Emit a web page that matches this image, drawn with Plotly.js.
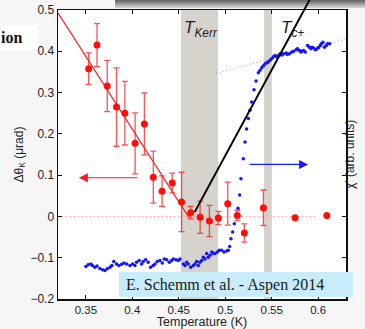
<!DOCTYPE html>
<html>
<head>
<meta charset="utf-8">
<script src="https://cdn.plot.ly/plotly-3.0.1.min.js"></script>
<style>
html,body{margin:0;padding:0;background:#f6f6f6;}
#chart{width:365px;height:329px;}
</style>
</head>
<body>
<div id="chart"></div>
<script>
// ---- Kerr rotation (red, left axis) ----
const kerrT      = [0.353, 0.362, 0.373, 0.383, 0.392, 0.403, 0.413, 0.4226, 0.432, 0.443, 0.453, 0.4628, 0.473, 0.483, 0.4926, 0.5027, 0.513, 0.5206, 0.5411, 0.5752, 0.6094];
const kerrSignal = [0.358, 0.415, 0.316, 0.265, 0.250, 0.177, 0.224, 0.095, 0.061, 0.081, 0.035, 0.009, -0.002, -0.011, -0.004, 0.031, 0.002, -0.040, 0.021, -0.003, 0.002];
const kerrError  = [0.038, 0.052, 0.062, 0.095, 0.077, 0.074, 0.075, 0.063, 0.037, 0.024, 0.072, 0.015, 0.039, 0.038, 0.016, 0.052, 0.013, 0.022, 0.043, 0.003, 0];

// ---- AC susceptibility (blue dots, arb. units on the same scale) ----
const chiT = [0.350, 0.3525, 0.3554, 0.357, 0.3597, 0.362, 0.365, 0.368, 0.3705, 0.373, 0.3759, 0.378, 0.380, 0.383, 0.3856, 0.3885, 0.391, 0.3939,
  0.3974, 0.4003, 0.4028, 0.4046, 0.4074, 0.410, 0.4117, 0.4143, 0.4171, 0.4197, 0.4225, 0.4244, 0.4268, 0.4297, 0.4322, 0.4344, 0.437, 0.4398,
  0.4423, 0.4441, 0.447, 0.4495, 0.4513, 0.4549, 0.4567, 0.4585, 0.4602, 0.4628, 0.4656, 0.4675, 0.4693, 0.471, 0.4728, 0.4747, 0.4764, 0.4782,
  0.480, 0.4818, 0.4836, 0.4855, 0.4872, 0.489, 0.4915, 0.4936, 0.4962, 0.4987, 0.5016, 0.5033, 0.5048, 0.5062, 0.508, 0.5098, 0.5124, 0.5138,
  0.5155, 0.5169, 0.5195, 0.5213, 0.523, 0.5249, 0.5267, 0.5285, 0.531, 0.5332, 0.5357, 0.5375, 0.5393, 0.541, 0.5429, 0.5447, 0.5464, 0.5482,
  0.550, 0.5518, 0.5537, 0.5555, 0.5573, 0.5591, 0.5609, 0.5627, 0.5656, 0.567, 0.5692, 0.5717, 0.5735, 0.5764, 0.5778, 0.580, 0.5815, 0.5825,
  0.5843, 0.5862, 0.5887, 0.5908, 0.5923, 0.5934, 0.5951, 0.597, 0.5988, 0.6005, 0.6024, 0.6035, 0.6052, 0.6067, 0.6088, 0.6102, 0.6124];
const chiSignal = [-0.121, -0.117, -0.115, -0.119, -0.123, -0.120, -0.126, -0.129, -0.131, -0.127, -0.123, -0.119, -0.109, -0.115, -0.119, -0.116, -0.113, -0.115,
  -0.119, -0.115, -0.119, -0.111, -0.107, -0.115, -0.109, -0.105, -0.111, -0.123, -0.119, -0.115, -0.109, -0.107, -0.113, -0.103, -0.105, -0.111,
  -0.107, -0.103, -0.105, -0.107, -0.103, -0.115, -0.119, -0.111, -0.115, -0.123, -0.119, -0.115, -0.109, -0.119, -0.111, -0.107, -0.099, -0.103,
  -0.090, -0.099, -0.094, -0.086, -0.090, -0.090, -0.086, -0.082, -0.082, -0.086, -0.084, -0.082, -0.073, -0.054, -0.038, -0.018, 0.006, 0.020,
  0.052, 0.091, 0.140, 0.180, 0.212, 0.237, 0.257, 0.277, 0.307, 0.328, 0.348, 0.354, 0.360, 0.365, 0.370, 0.372, 0.374, 0.378,
  0.382, 0.387, 0.390, 0.386, 0.390, 0.394, 0.391, 0.394, 0.396, 0.392, 0.394, 0.398, 0.400, 0.404, 0.406, 0.402, 0.398, 0.400,
  0.402, 0.398, 0.414, 0.410, 0.406, 0.410, 0.408, 0.404, 0.406, 0.409, 0.414, 0.418, 0.422, 0.410, 0.414, 0.418, 0.418];

// ---- guide / fit lines ----
const kerrFitT = [0.32, 0.461];
const kerrFitSignal = [0.493, -0.003];
const onsetFitT = [0.4671, 0.5907];
const onsetFitSignal = [0.0104, 0.524];
const zeroLineT = [0.32, 0.597];
const zeroLineSignal = [0, 0];
const chiHighFitT = [0.490, 0.63];
const chiHighFitSignal = [0.346, 0.430];

// ---- transition bands ----
const bandKerr = [0.4524, 0.4922];
const bandTc = [0.5418, 0.5501];

// ---- arrows (tip, tail) ----
const redArrowT = [0.3425, 0.4071];
const redArrowY = 0.0937;
const blueArrowT = [0.5892, 0.5246];
const blueArrowY = 0.126;

// ---- ticks ----
const xTicks = [0.35, 0.4, 0.45, 0.5, 0.55, 0.6];
const xTickText = ['0.35', '0.4', '0.45', '0.5', '0.55', '0.6'];
const yTicks = [-0.2, -0.1, 0, 0.1, 0.2, 0.3, 0.4, 0.5];
const yTickText = ['\u22120.2', '\u22120.1', '0', '0.1', '0.2', '0.3', '0.4', '0.5'];

const yRange = [-0.2, 0.5];
const xRange = [0.32, 0.63];
const H = 329, MB = 30, MT = 0;
const plotTopPx = 10;
const paperH = H - MB - MT;                 // 299
const yTopDomain = (paperH - plotTopPx) / paperH;
const pxToPaperY = p => (paperH - p) / paperH;
const W = 365, ML = 58, MR = 19;
const paperW = W - ML - MR;
const pxToPaperX = p => (p - ML) / paperW;

const traces = [
  {x: zeroLineT, y: zeroLineSignal, mode: 'lines', line: {color: 'rgba(255,120,120,0.75)', width: 1, dash: '1px,3px'}, hoverinfo: 'skip'},
  {x: chiHighFitT, y: chiHighFitSignal, mode: 'lines', line: {color: 'rgba(120,120,255,0.75)', width: 1, dash: '1px,2.5px'}, hoverinfo: 'skip'},
  {x: chiT, y: chiSignal, mode: 'markers', marker: {color: '#1414ff', size: 3.5}},
  {x: kerrFitT, y: kerrFitSignal, mode: 'lines', line: {color: '#ff1a1a', width: 1.1}},
  {x: kerrT, y: kerrSignal, mode: 'markers',
   marker: {color: '#ff0d0d', size: 7},
   error_y: {type: 'data', array: kerrError, visible: true, color: 'rgba(240,30,30,0.75)', thickness: 1.3, width: 3}},
  {x: onsetFitT, y: onsetFitSignal, xaxis: 'x2', yaxis: 'y2', mode: 'lines', line: {color: '#000', width: 2}}
];

const axisCommon = {
  showline: true, linecolor: '#111', linewidth: 1.5, mirror: 'ticks',
  ticks: 'inside', ticklen: 4, tickwidth: 1, tickcolor: '#111',
  showgrid: false, zeroline: false
};

const layout = {
  width: W, height: H,
  margin: {l: ML, r: MR, t: MT, b: MB, pad: 0},
  paper_bgcolor: '#f6f6f6',
  plot_bgcolor: 'rgba(0,0,0,0)',
  showlegend: false,
  font: {family: 'Liberation Sans, Arial, sans-serif', color: '#222'},
  xaxis: Object.assign({}, axisCommon, {
    domain: [0, 1], range: xRange, anchor: 'y',
    tickmode: 'array', tickvals: xTicks, ticktext: xTickText,
    tickfont: {size: 11.5, color: '#222'},
    title: {text: 'Temperature (K)', font: {size: 12.5, color: '#222'}, standoff: 2}
  }),
  yaxis: Object.assign({}, axisCommon, {
    domain: [0, yTopDomain], range: yRange, anchor: 'x',
    tickmode: 'array', tickvals: yTicks, ticktext: yTickText,
    tickfont: {size: 12, color: '#222'},
    title: {text: '\u0394\u03b8<sub>K</sub> (\u03bcrad)', font: {size: 12, color: '#222'}, standoff: 4}
  }),
  xaxis2: {domain: [0, 1], range: xRange, anchor: 'y2', visible: false, fixedrange: true},
  yaxis2: {domain: [0, 1], range: [yRange[0], yRange[0] + (yRange[1] - yRange[0]) / yTopDomain], anchor: 'x2', visible: false, fixedrange: true},
  shapes: [
    {type: 'rect', xref: 'paper', yref: 'paper', x0: 0, x1: 1, y0: 0, y1: yTopDomain, fillcolor: '#ffffff', line: {width: 0}, layer: 'below'},
    {type: 'rect', xref: 'x', yref: 'paper', x0: bandKerr[0], x1: bandKerr[1], y0: 0, y1: yTopDomain, fillcolor: '#d6d2cc', line: {width: 0}, layer: 'below'},
    {type: 'rect', xref: 'x', yref: 'paper', x0: bandTc[0], x1: bandTc[1], y0: 0, y1: yTopDomain, fillcolor: '#d6d2cc', line: {width: 0}, layer: 'below'},
    {type: 'rect', xref: 'paper', yref: 'paper', x0: pxToPaperX(115), x1: pxToPaperX(366), y0: pxToPaperY(2), y1: pxToPaperY(0), fillcolor: '#6e6e6e', line: {width: 0}, layer: 'below'},
    {type: 'rect', xref: 'paper', yref: 'paper', x0: pxToPaperX(115), x1: pxToPaperX(366), y0: pxToPaperY(4), y1: pxToPaperY(2), fillcolor: '#8c8c8c', line: {width: 0}, layer: 'below'},
    {type: 'rect', xref: 'paper', yref: 'paper', x0: pxToPaperX(115), x1: pxToPaperX(366), y0: pxToPaperY(6), y1: pxToPaperY(4), fillcolor: '#ababab', line: {width: 0}, layer: 'below'},
    {type: 'rect', xref: 'paper', yref: 'paper', x0: pxToPaperX(115), x1: pxToPaperX(366), y0: pxToPaperY(8), y1: pxToPaperY(6), fillcolor: '#cfcfcf', line: {width: 0}, layer: 'below'},
    {type: 'rect', xref: 'paper', yref: 'paper', x0: pxToPaperX(0), x1: pxToPaperX(38), y0: pxToPaperY(50), y1: pxToPaperY(25), fillcolor: '#ffffff', line: {width: 0}, layer: 'below'},
    {type: 'rect', xref: 'paper', yref: 'paper', x0: pxToPaperX(119), x1: pxToPaperX(353), y0: pxToPaperY(297), y1: pxToPaperY(272), fillcolor: '#c8ecf9', line: {width: 0}, layer: 'above'}
  ],
  annotations: [
    {xref: 'x', yref: 'y', x: redArrowT[0], y: redArrowY, ax: redArrowT[1], ay: redArrowY, axref: 'x', ayref: 'y',
     text: '', showarrow: true, arrowhead: 2, arrowsize: 1.5, arrowwidth: 1.2, arrowcolor: '#ff1a1a'},
    {xref: 'x', yref: 'y', x: blueArrowT[0], y: blueArrowY, ax: blueArrowT[1], ay: blueArrowY, axref: 'x', ayref: 'y',
     text: '', showarrow: true, arrowhead: 2, arrowsize: 1.5, arrowwidth: 1.2, arrowcolor: '#1a1aff'},
    {xref: 'x', yref: 'y', x: 0.474, y: 0.455, showarrow: false,
     text: '<i>T</i><sub><i>Kerr</i></sub>', font: {family: 'Liberation Sans, Arial, sans-serif', size: 17, color: '#222'}},
    {xref: 'x', yref: 'y', x: 0.5725, y: 0.455, showarrow: false,
     text: '<i>T</i><sub><i>c+</i></sub>', font: {family: 'Liberation Sans, Arial, sans-serif', size: 17, color: '#222'}},
    {xref: 'paper', yref: 'paper', x: pxToPaperX(124), y: pxToPaperY(284.5), xanchor: 'left', yanchor: 'middle', showarrow: false,
     text: 'E. Schemm et al. - Aspen 2014', font: {family: 'Liberation Serif, Times New Roman, serif', size: 16, color: '#1a1a1a'}},
    {xref: 'paper', yref: 'paper', x: pxToPaperX(359), y: pxToPaperY(155), textangle: -90, showarrow: false,
     text: '\u03c7\u2032 (arb. units)', font: {family: 'Liberation Sans, Arial, sans-serif', size: 12, color: '#222'}},
    {xref: 'paper', yref: 'paper', x: pxToPaperX(-1), y: pxToPaperY(37), xanchor: 'left', yanchor: 'middle', showarrow: false,
     text: '<b>ion</b>', font: {family: 'Liberation Serif, Times New Roman, serif', size: 16, color: '#111'}}
  ]
};

Plotly.newPlot('chart', traces, layout, {displayModeBar: false, staticPlot: true});
</script>
</body>
</html>
